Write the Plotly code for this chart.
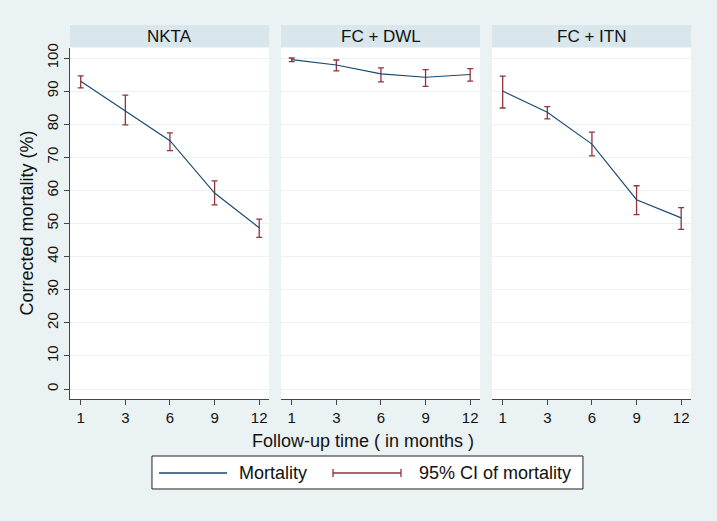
import plotly.graph_objects as go

months = ["1", "3", "6", "9", "12"]
groups = ["NKTA", "FC + DWL", "FC + ITN"]

nkta_mean = [93.0, 84.0, 75.0, 59.2, 48.7]
nkta_lo = [91.0, 79.8, 72.0, 55.6, 45.8]
nkta_hi = [94.6, 88.8, 77.4, 62.9, 51.3]

dwl_mean = [99.5, 97.9, 95.2, 94.2, 95.0]
dwl_lo = [98.9, 96.1, 92.8, 91.4, 93.0]
dwl_hi = [100.0, 99.4, 97.0, 96.5, 96.8]

itn_mean = [90.0, 83.6, 74.0, 57.2, 51.7]
itn_lo = [84.9, 81.6, 70.4, 52.7, 48.2]
itn_hi = [94.5, 85.3, 77.6, 61.4, 54.8]

y_ticks = [0, 10, 20, 30, 40, 50, 60, 70, 80, 90, 100]

series = [
    (nkta_mean, nkta_lo, nkta_hi),
    (dwl_mean, dwl_lo, dwl_hi),
    (itn_mean, itn_lo, itn_hi),
]

NAVY = "#1A476F"
MAROON = "#90353B"
BG = "#EAF2F3"
STRIP = "#D9E6EB"
FONT = "Liberation Sans, Arial, sans-serif"

fig = go.Figure()

domains = [(0.0, 0.3205), (0.3398, 0.6602), (0.6795, 1.0)]

for i, (m, lo, hi) in enumerate(series):
    xa = "x" if i == 0 else f"x{i+1}"
    ya = "y" if i == 0 else f"y{i+1}"
    fig.add_trace(go.Scatter(
        x=months, y=m, mode="markers",
        marker=dict(size=1, opacity=0, color=MAROON),
        error_y=dict(type="data", symmetric=False,
                     array=[h - v for h, v in zip(hi, m)],
                     arrayminus=[v - l for v, l in zip(m, lo)],
                     color=MAROON, thickness=1.3, width=3),
        showlegend=False, hoverinfo="skip", xaxis=xa, yaxis=ya,
    ))
    fig.add_trace(go.Scatter(
        x=months, y=m, mode="lines",
        line=dict(color=NAVY, width=1.1),
        showlegend=False, xaxis=xa, yaxis=ya,
    ))

layout = dict(
    width=717, height=521,
    paper_bgcolor=BG, plot_bgcolor="white",
    margin=dict(l=70, r=26, t=48, b=122),
    font=dict(family=FONT, size=15, color="#111111"),
    showlegend=False,
)

for i in range(3):
    xk = "xaxis" if i == 0 else f"xaxis{i+1}"
    yk = "yaxis" if i == 0 else f"yaxis{i+1}"
    layout[xk] = dict(
        domain=list(domains[i]), type="category",
        categoryorder="array", categoryarray=months,
        range=[-0.24, 4.22], showgrid=False, zeroline=False,
        showline=True, linecolor="#444444", linewidth=1,
        ticks="outside", ticklen=5, tickcolor="#444444",
        tickfont=dict(size=15, family=FONT), anchor="y" if i == 0 else f"y{i+1}",
    )
    layout[yk] = dict(
        range=[-3.02, 103.02], tickvals=y_ticks,
        showgrid=True, gridcolor=BG, gridwidth=1, zeroline=False,
        showline=(i == 0), linecolor="#444444", linewidth=1,
        ticks="outside" if i == 0 else "", ticklen=5, tickcolor="#444444",
        showticklabels=(i == 0), tickangle=-90,
        tickfont=dict(size=15, family=FONT),
        anchor="x" if i == 0 else f"x{i+1}",
    )

fig.update_layout(**layout)

shapes = []
annotations = []
for i, g in enumerate(groups):
    xr = "x domain" if i == 0 else f"x{i+1} domain"
    yr = "y domain" if i == 0 else f"y{i+1} domain"
    shapes.append(dict(type="rect", xref=xr, yref=yr, x0=0, x1=1,
                       y0=1.0028, y1=1.0655, fillcolor=STRIP,
                       line=dict(width=0), layer="below"))
    annotations.append(dict(text=g, xref=xr, yref=yr, x=0.5, y=1.034,
                            showarrow=False, xanchor="center", yanchor="middle",
                            font=dict(size=17, family=FONT, color="#111111")))

# axis titles
annotations.append(dict(text="Follow-up time ( in months )", xref="paper", yref="paper",
                        x=0.4718, y=-0.1197, showarrow=False, xanchor="center",
                        yanchor="middle", font=dict(size=18, family=FONT)))
annotations.append(dict(text="Corrected mortality (%)", xref="paper", yref="paper",
                        x=-0.0708, y=0.5, showarrow=False, textangle=-90,
                        xanchor="center", yanchor="middle", font=dict(size=18, family=FONT)))

# legend box
ly = -0.2108
shapes.append(dict(type="rect", xref="paper", yref="paper", x0=0.132, x1=0.826,
                   y0=-0.2564, y1=-0.1624, fillcolor="white",
                   line=dict(color="#222222", width=1)))
shapes.append(dict(type="line", xref="paper", yref="paper", x0=0.1433, x1=0.2528,
                   y0=ly, y1=ly, line=dict(color=NAVY, width=1.3)))
annotations.append(dict(text="Mortality", xref="paper", yref="paper", x=0.2689, y=ly,
                        showarrow=False, xanchor="left", yanchor="middle",
                        font=dict(size=18, family=FONT)))
shapes.append(dict(type="line", xref="paper", yref="paper", x0=0.4235, x1=0.533,
                   y0=ly, y1=ly, line=dict(color=MAROON, width=1.3)))
for cx in (0.4235, 0.533):
    shapes.append(dict(type="line", xref="paper", yref="paper", x0=cx, x1=cx,
                       y0=ly - 0.0114, y1=ly + 0.0114, line=dict(color=MAROON, width=1.3)))
annotations.append(dict(text="95% CI of mortality", xref="paper", yref="paper",
                        x=0.5588, y=ly, showarrow=False, xanchor="left", yanchor="middle",
                        font=dict(size=18, family=FONT)))

fig.update_layout(shapes=shapes, annotations=annotations)

fig.write_html("out.html",
               config={"displayModeBar": False},
               post_script="document.body.style.margin='0';document.body.style.padding='0';document.body.style.background='" + BG + "';")
